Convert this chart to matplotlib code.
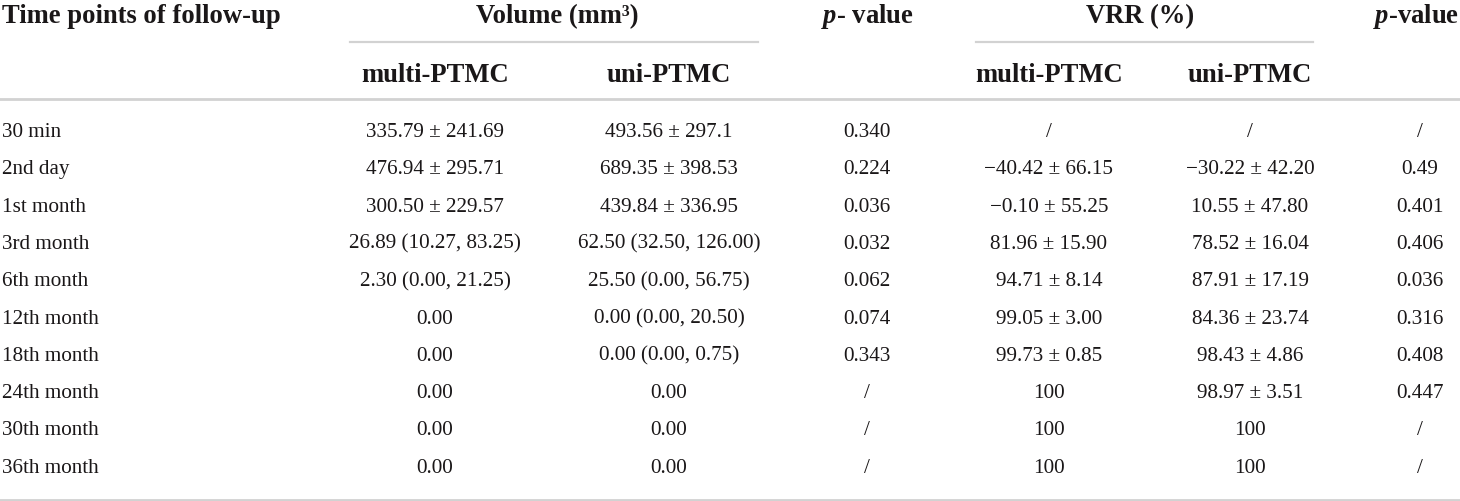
import matplotlib
matplotlib.use("Agg")
import matplotlib.pyplot as plt

plt.rcParams['font.family'] = ['Liberation Serif', 'DejaVu Serif']
plt.rcParams['mathtext.fontset'] = 'custom'
plt.rcParams['mathtext.it'] = 'Liberation Serif:italic:bold'
plt.rcParams['mathtext.rm'] = 'Liberation Serif:bold'
plt.rcParams['mathtext.bf'] = 'Liberation Serif:bold'

time_points = ["30 min", "2nd day", "1st month", "3rd month", "6th month", "12th month",
               "18th month", "24th month", "30th month", "36th month"]
vol_multi = ["335.79 ± 241.69", "476.94 ± 295.71", "300.50 ± 229.57", "26.89 (10.27, 83.25)",
             "2.30 (0.00, 21.25)", "0.00", "0.00", "0.00", "0.00", "0.00"]
vol_uni = ["493.56 ± 297.1", "689.35 ± 398.53", "439.84 ± 336.95", "62.50 (32.50, 126.00)",
           "25.50 (0.00, 56.75)", "0.00 (0.00, 20.50)", "0.00 (0.00, 0.75)", "0.00", "0.00", "0.00"]
vol_p = ["0.340", "0.224", "0.036", "0.032", "0.062", "0.074", "0.343", "/", "/", "/"]
vrr_multi = ["/", "\u221240.42 ± 66.15", "\u22120.10 ± 55.25", "81.96 ± 15.90", "94.71 ± 8.14",
             "99.05 ± 3.00", "99.73 ± 0.85", "100", "100", "100"]
vrr_uni = ["/", "\u221230.22 ± 42.20", "10.55 ± 47.80", "78.52 ± 16.04", "87.91 ± 17.19",
           "84.36 ± 23.74", "98.43 ± 4.86", "98.97 ± 3.51", "100", "100"]
vrr_p = ["/", "0.49", "0.401", "0.406", "0.036", "0.316", "0.408", "0.447", "/", "/"]

sub_headers = ["multi-PTMC", "uni-PTMC", "multi-PTMC", "uni-PTMC"]

txt_color = "#1a1718"
rule_color = "#d2d2d2"
fs_body = 15.2
fs_head = 19.2

fig = plt.figure(figsize=(14.6, 5.01), dpi=100)
ax = fig.add_axes([0, 0, 1, 1])
ax.set_xlim(0, 1460)
ax.set_ylim(501, 0)
ax.axis('off')

col_x = [435, 669, 867, 1049, 1250, 1420]
row_y0, row_dy = 137, 37.3
head_y, sub_y = 23, 82

# header (baseline aligned)
ax.text(2, head_y, "Time points of follow-up", fontsize=fs_head, fontweight='bold',
        color=txt_color, ha='left', va='baseline')
ax.text(557, head_y, "Volume (mm³)", fontsize=fs_head, fontweight='bold',
        color=txt_color, ha='center', va='baseline')
ax.text(col_x[2], head_y, r"$\mathit{p}$- value", fontsize=fs_head, fontweight='bold',
        color=txt_color, ha='center', va='baseline')
ax.text(1140, head_y, "VRR (%)", fontsize=fs_head, fontweight='bold',
        color=txt_color, ha='center', va='baseline')
ax.text(1459, head_y, r"$\mathit{p}$-value", fontsize=fs_head, fontweight='bold',
        color=txt_color, ha='right', va='baseline')

for x, lab in zip([col_x[0], col_x[1], col_x[3], col_x[4]], sub_headers):
    ax.text(x, sub_y, lab, fontsize=fs_head, fontweight='bold', color=txt_color,
            ha='center', va='baseline')

# rules
ax.plot([350, 758], [42, 42], color=rule_color, lw=1.6)
ax.plot([976, 1313], [42, 42], color=rule_color, lw=1.6)
ax.plot([0, 1460], [99, 99], color=rule_color, lw=2.0)
ax.plot([0, 1460], [499.5, 499.5], color=rule_color, lw=2.0)

# body
columns = [vol_multi, vol_uni, vol_p, vrr_multi, vrr_uni, vrr_p]
for i, tp in enumerate(time_points):
    y = row_y0 + i * row_dy
    ax.text(2, y, tp, fontsize=fs_body, color=txt_color, ha='left', va='baseline')
    for x, col in zip(col_x, columns):
        ax.text(x, y, col[i], fontsize=fs_body, color=txt_color, ha='center', va='baseline')

fig.savefig("out.png", dpi=100)
